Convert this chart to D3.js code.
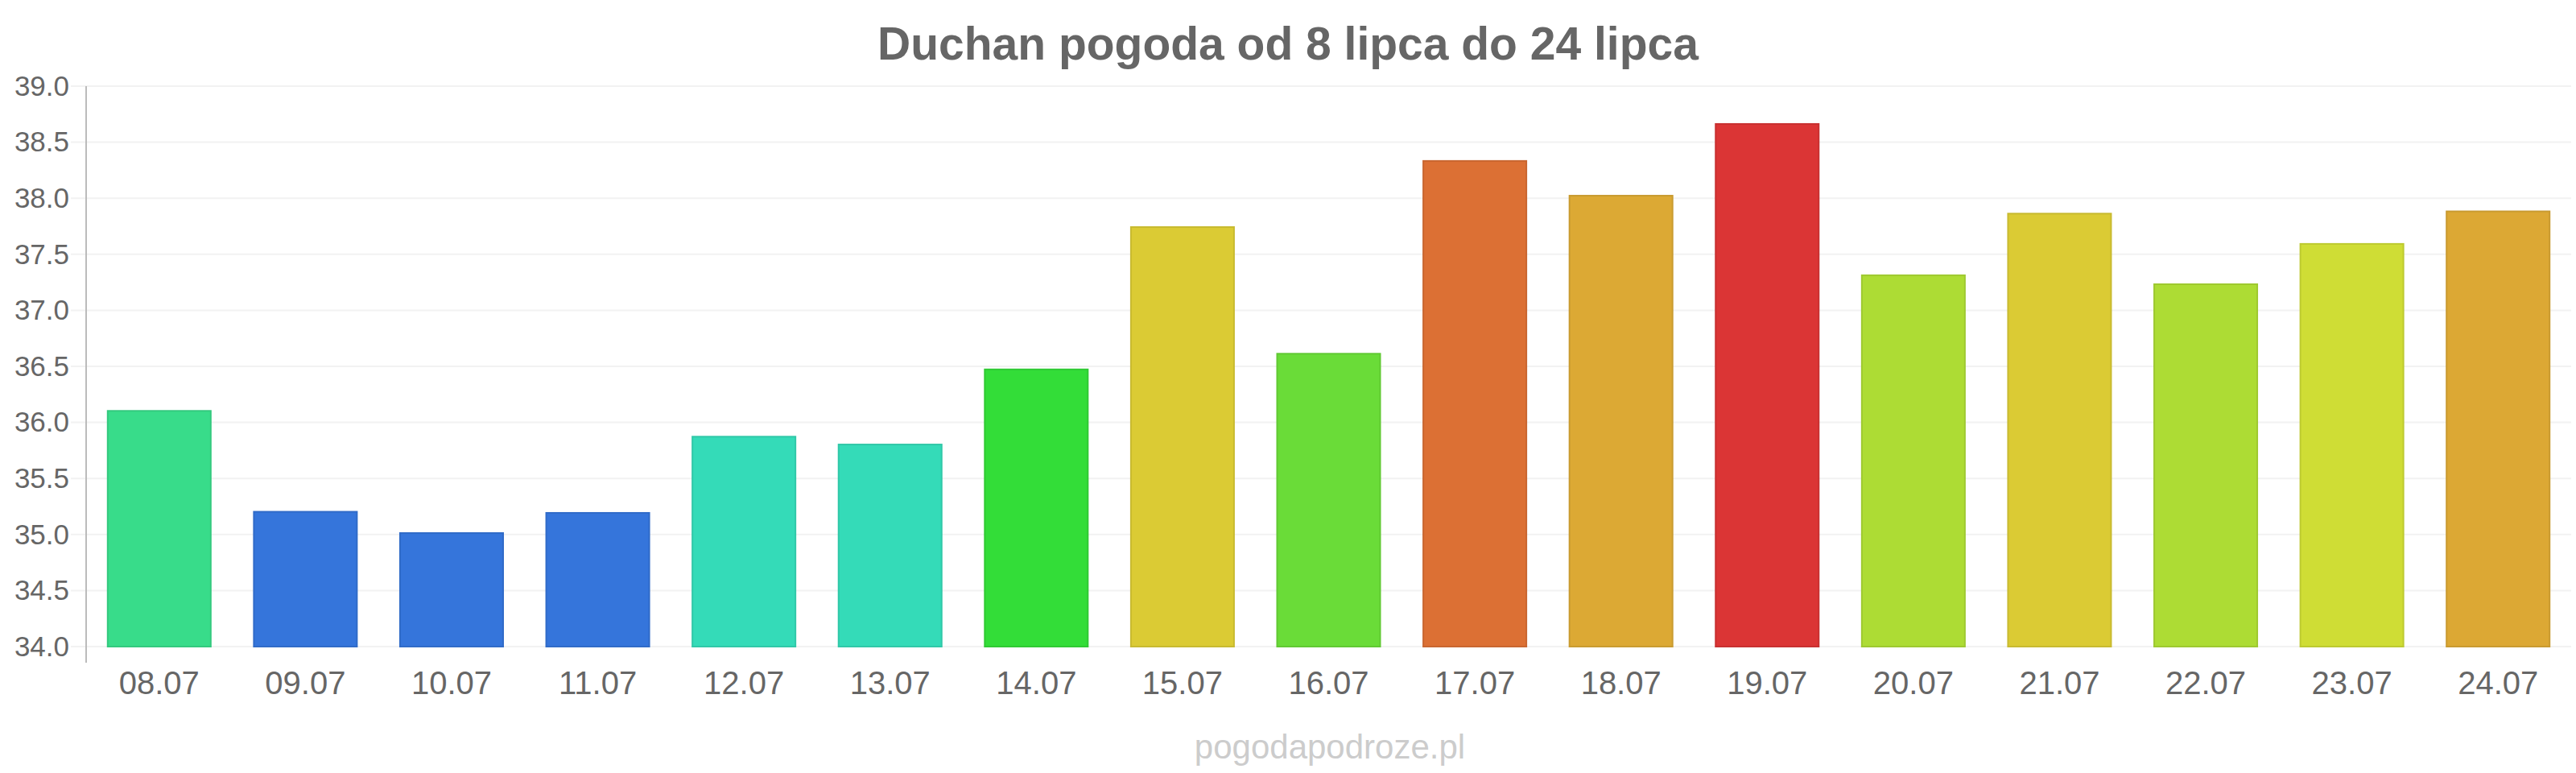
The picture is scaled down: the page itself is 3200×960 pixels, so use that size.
<!DOCTYPE html>
<head>
  <meta charset="utf-8">
  <style>
    body { margin: 0; background: #fff; }
    text { font-family: 'Liberation Sans', Arial, sans-serif; }
  </style>
  <script src="https://cdn.jsdelivr.net/npm/d3@7/dist/d3.min.js"></script>
</head>
<body>
  <script>
    const days = ['08.07', '09.07', '10.07', '11.07', '12.07', '13.07', '14.07', '15.07', '16.07',
                  '17.07', '18.07', '19.07', '20.07', '21.07', '22.07', '23.07', '24.07'];
    const temps = [36.11, 35.21, 35.02, 35.20, 35.88, 35.81, 36.48, 37.75, 36.62,
                   38.34, 38.03, 38.67, 37.32, 37.87, 37.24, 37.60, 37.89];
    const barColors = ['#38dc8a', '#3575db', '#3575db', '#3575db', '#34dbb8', '#34dbb8', '#33dd38', '#dbcb34', '#6adc38',
                       '#dc7034', '#dca934', '#db3535', '#addc34', '#dbcb34', '#addc34', '#cfdd35', '#dca834'];
    const yTicks = [34.0, 34.5, 35.0, 35.5, 36.0, 36.5, 37.0, 37.5, 38.0, 38.5, 39.0];

    const title = 'Duchan pogoda od 8 lipca do 24 lipca';
    const credit = 'pogodapodroze.pl';

    const w = 3200, h = 960;
    const plotLeft = 107, plotRight = 3194, plotTop = 107, plotBottom = 803;

    const svg = d3.select('body').append('svg')
      .attr('width', w)
      .attr('height', h);

    const x = d3.scaleBand()
      .domain(days)
      .range([plotLeft, plotRight])
      .paddingInner(0.284)
      .paddingOuter(0.142);

    const y = d3.scaleLinear()
      .domain([34, 39])
      .range([plotBottom, plotTop]);

    // grid lines
    svg.append('g')
      .selectAll('line')
      .data(yTicks)
      .join('line')
      .attr('x1', plotLeft - 19)
      .attr('x2', plotRight)
      .attr('y1', d => y(d))
      .attr('y2', d => y(d))
      .attr('stroke', '#f2f2f2')
      .attr('stroke-width', 2);

    // y axis
    const yAxis = svg.append('g')
      .attr('transform', `translate(${plotLeft},0)`)
      .call(d3.axisLeft(y).tickValues(yTicks).tickFormat(d3.format('.1f')).tickSize(0).tickPadding(21));
    yAxis.select('.domain').remove();
    yAxis.selectAll('text')
      .attr('font-size', '35px')
      .attr('fill', '#666')
      .style('font-family', "'Liberation Sans', Arial, sans-serif");

    svg.append('line')
      .attr('x1', plotLeft).attr('x2', plotLeft)
      .attr('y1', plotTop).attr('y2', plotBottom + 20)
      .attr('stroke', '#bbb')
      .attr('stroke-width', 2);

    // bars
    svg.append('g')
      .selectAll('rect')
      .data(temps)
      .join('rect')
      .attr('x', (d, i) => x(days[i]) + 1)
      .attr('width', x.bandwidth() - 2)
      .attr('y', d => y(d) + 1)
      .attr('height', d => y(34) - y(d) - 1)
      .attr('fill', (d, i) => barColors[i])
      .attr('stroke', (d, i) => d3.color(barColors[i]).darker(0.25))
      .attr('stroke-width', 2);

    // x axis
    const xAxis = svg.append('g')
      .attr('transform', `translate(0,${plotBottom})`)
      .call(d3.axisBottom(x).tickSize(0).tickPadding(31));
    xAxis.select('.domain').remove();
    xAxis.selectAll('text')
      .attr('font-size', '40px')
      .attr('fill', '#666')
      .style('font-family', "'Liberation Sans', Arial, sans-serif");

    svg.append('text')
      .attr('x', 1600)
      .attr('y', 74)
      .attr('text-anchor', 'middle')
      .attr('font-size', '57px')
      .attr('font-weight', 'bold')
      .attr('fill', '#666')
      .text(title);

    svg.append('text')
      .attr('x', 1652)
      .attr('y', 942)
      .attr('text-anchor', 'middle')
      .attr('font-size', '42px')
      .attr('fill', '#ccc')
      .text(credit);
  </script>
</body>
